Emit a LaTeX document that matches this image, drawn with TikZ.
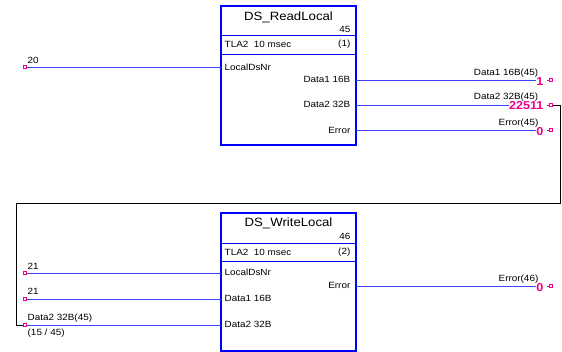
\documentclass[tikz,border=0pt]{standalone}
\usepackage{fontspec}
\setmainfont{Liberation Sans}[FakeStretch=1.1]
\begin{document}
\begin{tikzpicture}[x=1pt,y=-1pt,
  blk/.style={draw=blue,line width=1.8pt},
  sep/.style={draw=blue,line width=0.9pt},
  wire/.style={draw=blue!75,line width=0.9pt},
  fb/.style={draw=black,line width=0.7pt},
  pin/.style={draw=magenta,fill=white,line width=0.6pt,minimum size=3pt,inner sep=0pt,rectangle},
  lbl/.style={font=\fontsize{9}{10}\selectfont,inner sep=0.5pt},
  ttl/.style={font=\fontsize{12}{13}\selectfont,inner sep=0pt},
  val/.style={font=\fontsize{11.5}{12}\selectfont\bfseries,text=magenta,fill=white,inner sep=0.3pt,anchor=east}]
\useasboundingbox (0,0) rectangle (562,352);
% ---------- Block 1 ----------
\draw[blk] (221,6) rectangle (356,145);
\draw[sep] (221,35) -- (356,35);
\draw[sep] (221,54) -- (356,54);
\node[ttl] (t1) at (288.5,17) {DS\_ReadLocal};
\node[lbl,anchor=east] (n1) at (351,29) {45};
\node[lbl,anchor=west] (c1) at (224,44.5) {TLA2\ \ 10 msec};
\node[lbl,anchor=east] (o1) at (351,44.5) {(1)};
\node[lbl,anchor=west] (p1a) at (224,67) {LocalDsNr};
\node[lbl,anchor=east] (p1b) at (351,79) {Data1 16B};
\node[lbl,anchor=east] (p1c) at (351,104) {Data2 32B};
\node[lbl,anchor=east] (p1d) at (351,130) {Error};
\coordinate (i1a) at (221,67);
\coordinate (q1b) at (356,80);
\coordinate (q1c) at (356,105);
\coordinate (q1d) at (356,130);
% ---------- Block 2 ----------
\draw[blk] (221,213) rectangle (356,351);
\draw[sep] (221,243) -- (356,243);
\draw[sep] (221,261) -- (356,261);
\node[ttl] (t2) at (288.5,223) {DS\_WriteLocal};
\node[lbl,anchor=east] (n2) at (351,236.5) {46};
\node[lbl,anchor=west] (c2) at (224,252) {TLA2\ \ 10 msec};
\node[lbl,anchor=east] (o2) at (351,252) {(2)};
\node[lbl,anchor=west] (p2a) at (224,272) {LocalDsNr};
\node[lbl,anchor=east] (p2d) at (351,285) {Error};
\node[lbl,anchor=west] (p2b) at (224,298) {Data1 16B};
\node[lbl,anchor=west] (p2c) at (224,324) {Data2 32B};
\coordinate (i2a) at (221,273);
\coordinate (i2b) at (221,299);
\coordinate (i2c) at (221,325);
\coordinate (q2d) at (356,286);
% ---------- inputs ----------
\node[pin] (s1) at (25,67) {};
\node[pin] (s2) at (25,273) {};
\node[pin] (s3) at (25,299) {};
\node[pin] (s4) at (25,325) {};
\draw[wire] (s1) -- (i1a);
\draw[wire] (s2) -- (i2a);
\draw[wire] (s3) -- (i2b);
\draw[wire] (s4) -- (i2c);
\node[lbl,anchor=west] (v20) at (27,60) {20};
\node[lbl,anchor=west] (v21a) at (27,266) {21};
\node[lbl,anchor=west] (v21b) at (27,291.5) {21};
\node[lbl,anchor=west] (vd2) at (27,318) {Data2 32B(45)};
\node[lbl,anchor=west] (vrf) at (27,333.5) {(15 / 45)};
% ---------- outputs ----------
\node[lbl,anchor=east] (l1) at (539,73) {Data1 16B(45)};
\node[lbl,anchor=east] (l2) at (539,97) {Data2 32B(45)};
\node[lbl,anchor=east] (l3) at (539,123) {Error(45)};
\node[lbl,anchor=east] (l4) at (539,279) {Error(46)};
\node[val] (w1) at (544,81.5) {1};
\node[val] (w2) at (544,106) {22511};
\node[val] (w3) at (544,131.5) {0};
\node[val] (w4) at (544,287.5) {0};
\node[pin] (d1) at (551,80) {};
\node[pin] (d2) at (551,105) {};
\node[pin] (d3) at (551,130) {};
\node[pin] (d4) at (551,286) {};
\draw[wire] (q1b) -- (q1b -| w1.west);
\draw[wire] (q1c) -- (q1c -| w2.west);
\draw[wire] (q1d) -- (q1d -| w3.west);
\draw[wire] (q2d) -- (q2d -| w4.west);
\foreach \d in {d1,d2,d3,d4} \draw[magenta,line width=0.6pt] (\d.west) -- ++(-2.5,0);
% ---------- feedback ----------
\coordinate (f1) at (560,105);
\coordinate (f2) at (560,203);
\coordinate (f3) at (16,203);
\coordinate (f4) at (16,325);
\draw[fb] (d2) -- (f1) -- (f2) -- (f3) -- (f4) -- (s4);
\end{tikzpicture}
\end{document}
